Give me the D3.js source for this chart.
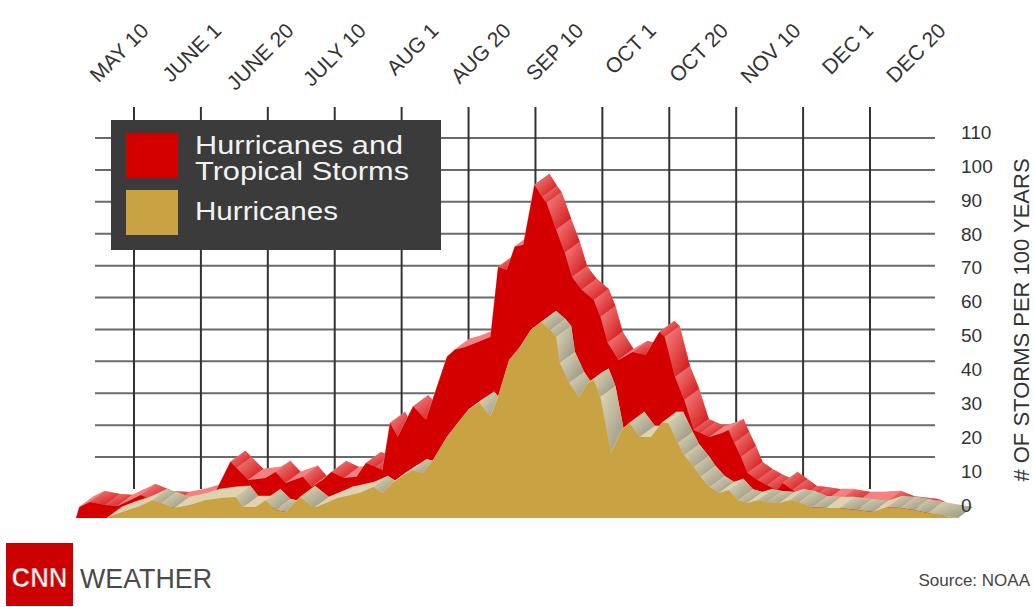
<!DOCTYPE html>
<html><head><meta charset="utf-8">
<script src="https://cdn.jsdelivr.net/npm/d3@7"></script>
<style>html,body{margin:0;padding:0;background:#fff}svg{display:block}</style>
</head><body>
<svg id="chart" width="1035" height="607"></svg>
<script>
// ---------- data ----------
const tickLabels = ["MAY 10","JUNE 1","JUNE 20","JULY 10","AUG 1","AUG 20","SEP 10","OCT 1","OCT 20","NOV 10","DEC 1","DEC 20"];
const tickDays   = [130,152,171,191,213,232,253,274,293,314,335,354]; // day of year
const yTicks     = [0,10,20,30,40,50,60,70,80,90,100,110];

// Hurricanes and tropical storms: [day of year, storms per 100 years]
const stormPoints = [[111,0],[112,3.4],[115.5,5],[120.5,4.1],[124.7,3.8],[128.7,5.6],[132.2,7.2],[137.8,5],[143.4,4.7],[148.3,5.6],[152,6.6],[156,7.8],[160.4,17.6],[162.1,15.7],[165.5,11.9],[170.4,12.5],[173.3,14.4],[176.4,11],[181.5,12.9],[184.1,9.7],[187.4,11.9],[190,14.4],[194.1,12.5],[198.2,12.9],[201.3,17.2],[204.5,16],[206.7,15],[209.2,29.8],[211.7,25.4],[216.3,35],[219.9,30.7],[225.9,50.5],[228.1,52.7],[231.1,53.6],[234.4,54.9],[238.9,56.7],[241.3,78.7],[244,77.7],[246.5,85],[249.2,85.6],[252.7,104.4],[255.1,100.6],[256.5,98.7],[259.5,90.3],[262.2,83.1],[264.5,75.5],[267.5,71.5],[271.3,68.3],[273.4,63],[275.5,54.9],[278.6,49.5],[282.6,52],[286.3,51.1],[290.2,58.3],[291.7,56.7],[294.8,44.2],[297.7,37],[300.7,27.6],[302.8,26.6],[305.7,25.4],[309.6,26.6],[311.6,27.6],[313.4,23.5],[315.5,19.1],[317.6,14.1],[320.7,11.9],[323.7,10.3],[326.8,8.8],[328.6,11],[331.7,8.8],[334.7,6.6],[337.6,6.3],[341.6,5.6],[345.4,5.6],[350,4.7],[354,4.7],[358.6,5],[362.4,3.4],[369.3,2.5],[374,0]];

// Hurricanes only
const hurricanePoints = [[121.1,0],[125.4,1.6],[131.1,3.4],[136,5.6],[139,4.7],[143.4,3.1],[148.3,4.1],[153.2,5.6],[157.8,6.3],[161.8,6.6],[164.1,3.4],[167.5,3.4],[170.4,5.6],[173.3,2.5],[176.4,1.9],[178.9,4.7],[180.7,6.6],[184.8,3.1],[188.4,4.7],[192,6.3],[199.2,7.8],[203.6,9.7],[206.7,7.8],[209.9,11],[213,12.9],[216,15],[219,14.1],[222,18.2],[225.9,25.4],[229,29.8],[232,33.9],[235.4,36.1],[238.9,31.7],[241.3,37.9],[244.8,49.5],[248.2,53.6],[251.6,58.9],[254.8,61.4],[257.7,58.9],[259.5,56.7],[260.7,48.6],[263.6,42.3],[266.6,37.9],[269.5,42.3],[271.3,43.3],[273.4,37.9],[276.5,20.4],[279.5,27.6],[281.7,29.8],[284.7,25.4],[287.8,25.4],[290.9,29.8],[292.7,29.8],[295.7,23.5],[297.7,19.7],[300.7,16],[302.8,12.9],[305.7,9.7],[308.7,7.8],[311.6,8.8],[314.6,5.6],[317.6,4.7],[320.7,5.6],[323.7,5],[327.7,4.7],[330.7,5.6],[333.8,5],[337.6,3.4],[341.6,3.1],[345.4,3.1],[350.3,2.5],[354.9,1.9],[358.9,3.4],[362.6,3.1],[366.4,2.5],[370.4,1.6],[379,0]];

const legendItems = [["Hurricanes and","Tropical Storms"],["Hurricanes"]];
const axisTitle = "# OF STORMS PER 100 YEARS";

// ---------- layout ----------
const FONT = "'Liberation Sans', Arial, Helvetica, sans-serif";
const svg = d3.select("#chart");
const gridL = 134, gridR = 870, lineL = 95, lineR = 935;
const step = (gridR - gridL) / (tickDays.length - 1);
const x = d3.scaleLinear().domain(tickDays).range(tickDays.map((d, i) => gridL + i * step));
const yWall = d3.scaleLinear().domain([0, 110]).range([489, 138]);   // back wall (grid)
const yFace = d3.scaleLinear().domain([0, 110]).range([518, 167]);   // front face of the 3D ribbons
const yLabel = d3.scaleLinear().domain([0, 110]).range([505, 132]);
const labelX = d3.scalePoint().domain(tickLabels).range([150, 947]);
const depth = {dx: 15, dy: -11};

// gradients
const defs = svg.append("defs");
function grad(id, c1, c2) {
  const g = defs.append("linearGradient").attr("id", id).attr("x1", 0).attr("y1", 0).attr("x2", 1).attr("y2", 1);
  g.append("stop").attr("offset", "0%").attr("stop-color", c1);
  g.append("stop").attr("offset", "85%").attr("stop-color", c2);
}
grad("redSide", "#f68686", "#d42020");
grad("goldSide", "#e2d9b9", "#9d9a86");

// ---------- grid ----------
const grid = svg.append("g");
grid.selectAll("line.h").data(yTicks.filter(t => t > 0)).join("line")
  .attr("x1", lineL).attr("x2", lineR)
  .attr("y1", d => yWall(d)).attr("y2", d => yWall(d))
  .attr("stroke", "#6a6a6a").attr("stroke-width", 2);
grid.selectAll("line.v").data(tickDays).join("line")
  .attr("x1", d => x(d)).attr("x2", d => x(d))
  .attr("y1", 107).attr("y2", yWall(0))
  .attr("stroke", "#333").attr("stroke-width", 2);

// ---------- 3D ribbons ----------
function ribbon(points, frontColor, topColor, sideFill) {
  const g = svg.append("g");
  const area = d3.area().x(d => x(d[0])).y0(yFace(0)).y1(d => yFace(d[1]));
  g.append("path").attr("d", area(points)).attr("fill", topColor)
    .attr("transform", `translate(${depth.dx},${depth.dy})`);
  const pts = points.map(d => [x(d[0]), yFace(d[1])]);
  for (let i = 0; i < pts.length - 1; i++) {
    const p = pts[i], q = pts[i + 1];
    const poly = [p, q, [q[0] + depth.dx, q[1] + depth.dy], [p[0] + depth.dx, p[1] + depth.dy]];
    const falling = points[i + 1][1] < points[i][1];
    g.append("path").attr("d", "M" + poly.join("L") + "Z")
      .attr("fill", falling ? sideFill : topColor)
      .attr("stroke", falling ? "none" : topColor).attr("stroke-width", 0.6);
  }
  g.append("path").attr("d", area(points)).attr("fill", frontColor);
}
ribbon(stormPoints, "#d40000", "#f58080", "url(#redSide)");
ribbon(hurricanePoints, "#c9a244", "#ddd3b0", "url(#goldSide)");

// ---------- legend ----------
const lg = svg.append("g");
lg.append("rect").attr("x", 111).attr("y", 120).attr("width", 330).attr("height", 130).attr("fill", "#3b3b3b");
const swatchColors = ["#d40000", "#c9a244"];
lg.selectAll("rect.sw").data(legendItems).join("rect")
  .attr("x", 126).attr("y", (d, i) => 133 + i * 57).attr("width", 52).attr("height", 45)
  .attr("fill", (d, i) => swatchColors[i]);
const legendLens = [[208, 214], [143]];
const legendBase = [154, 220];
legendItems.forEach((lines, i) => {
  const t = lg.append("text").attr("x", 195).attr("y", legendBase[i])
    .attr("font-family", FONT).attr("font-size", 26).attr("fill", "#f2f2f2");
  lines.forEach((s, j) => {
    t.append("tspan").attr("x", 195).attr("dy", j === 0 ? 0 : 26).text(s)
      .attr("textLength", legendLens[i][j]).attr("lengthAdjust", "spacingAndGlyphs");
  });
});

// ---------- axis labels ----------
svg.append("g").selectAll("text").data(tickLabels).join("text")
  .attr("transform", d => `translate(${labelX(d)},32) rotate(-45)`)
  .attr("text-anchor", "end").attr("font-family", FONT).attr("font-size", 21)
  .attr("fill", "#333").text(d => d);

svg.append("g").selectAll("text").data(yTicks).join("text")
  .attr("x", 961).attr("y", d => yLabel(d)).attr("dy", "0.36em")
  .attr("font-family", FONT).attr("font-size", 19).attr("fill", "#333").text(d => d);

svg.append("text").attr("transform", "translate(1029,320) rotate(-90)")
  .attr("text-anchor", "middle").attr("font-family", FONT).attr("font-size", 22)
  .attr("fill", "#333").text(axisTitle);

// ---------- footer ----------
svg.append("rect").attr("x", 6).attr("y", 543).attr("width", 67).attr("height", 63).attr("fill", "#cc0000");
svg.append("text").attr("x", 39.5).attr("y", 587).attr("text-anchor", "middle")
  .attr("font-family", FONT).attr("font-size", 27).attr("font-weight", "bold")
  .attr("fill", "#fff").attr("stroke", "#cc0000").attr("stroke-width", 0.7)
  .attr("textLength", 56).attr("lengthAdjust", "spacingAndGlyphs").text("CNN");
svg.append("text").attr("x", 80).attr("y", 588).attr("font-family", FONT).attr("font-size", 27)
  .attr("fill", "#4a4a4a").attr("textLength", 132).attr("lengthAdjust", "spacingAndGlyphs").text("WEATHER");
svg.append("text").attr("x", 1030).attr("y", 586).attr("text-anchor", "end").attr("font-family", FONT)
  .attr("font-size", 17).attr("fill", "#444").text("Source: NOAA");
</script>
</body></html>
